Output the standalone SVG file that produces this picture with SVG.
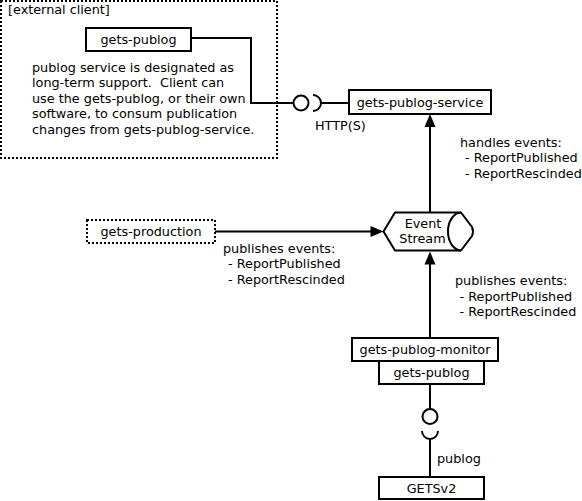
<svg xmlns="http://www.w3.org/2000/svg" width="582" height="501" viewBox="0 0 582 501">
<style>
text{font-family:"DejaVu Sans","Liberation Sans",sans-serif;font-size:12.8px;fill:#000;white-space:pre}
.c{text-anchor:middle}
.box{fill:#fff;stroke:#000;stroke-width:2}
.dot{fill:#fff;stroke:#000;stroke-width:2;stroke-dasharray:2 2}
.ln{fill:none;stroke:#000;stroke-width:2}
.ah{fill:#000;stroke:none}
</style>
<rect width="582" height="501" fill="#fff"/>
<g id="external-client">
<rect class="dot" x="1" y="1" width="276" height="157"/>
<text x="8" y="14">[external client]</text>
<text x="32" y="71.5">publog service is designated as</text>
<text x="32" y="87">long-term support.  Client can</text>
<text x="32" y="102.7">use the gets-publog, or their own</text>
<text x="32" y="118.3">software, to consum publication</text>
<text x="32" y="134">changes from gets-publog-service.</text>
</g>
<g id="client-gets-publog">
<rect class="box" x="86" y="28" width="105" height="23"/>
<text class="c" x="138.5" y="44">gets-publog</text>
</g>
<g id="gets-publog-service">
<rect class="box" x="349" y="90" width="142" height="24"/>
<text class="c" x="420" y="106.5">gets-publog-service</text>
</g>
<g id="gets-production">
<rect class="dot" x="87" y="220" width="128" height="23"/>
<text class="c" x="151" y="236">gets-production</text>
</g>
<g id="event-stream">
<path class="box" stroke-linejoin="round" d="M461,212.5 H395 L383.5,231.5 L395,250.5 H461 L472,236 Q474,231.5 472,227 Z"/>
<path class="ln" d="M461,212.5 A13,19 0 0 0 461,250.5"/>
<text class="c" x="423" y="227.5">Event</text>
<text class="c" x="422.5" y="243">Stream</text>
</g>
<g id="gets-publog-monitor">
<rect class="box" x="352" y="338" width="146" height="23"/>
<text class="c" x="425" y="354">gets-publog-monitor</text>
</g>
<g id="gets-publog">
<rect class="box" x="379" y="361" width="105" height="23"/>
<text class="c" x="431.5" y="377">gets-publog</text>
</g>
<g id="getsv2">
<rect class="box" x="379" y="477" width="105" height="22"/>
<text class="c" x="431.5" y="492.5">GETSv2</text>
</g>
<g id="connectors">
<path class="ln" d="M191,38 H251 V103 H293.5"/>
<circle class="ln" cx="301" cy="103" r="7.5"/>
<path class="ln" d="M313,95 A8,8 0 0 1 313,111"/>
<path class="ln" d="M321,103 H349"/>
<text x="315" y="130">HTTP(S)</text>
<path class="ln" d="M430,212.5 V126"/>
<polygon class="ah" points="430,114 424.5,127 435.5,127"/>
<text x="460" y="146.5">handles events:</text>
<text x="465" y="162">- ReportPublished</text>
<text x="465" y="177.5">- ReportRescinded</text>
<path class="ln" d="M215,231.5 H371"/>
<polygon class="ah" points="383.5,231.5 370.5,226 370.5,237"/>
<text x="223" y="252.5">publishes events:</text>
<text x="228" y="268">- ReportPublished</text>
<text x="228" y="283.5">- ReportRescinded</text>
<path class="ln" d="M430,338 V264"/>
<polygon class="ah" points="430,251.5 424.5,264.5 435.5,264.5"/>
<text x="455" y="285">publishes events:</text>
<text x="459.5" y="300.5">- ReportPublished</text>
<text x="459.5" y="316">- ReportRescinded</text>
<path class="ln" d="M430,384 V409"/>
<circle class="ln" cx="430" cy="416.5" r="7.5"/>
<path class="ln" d="M422,431 A8,8 0 0 0 438,431"/>
<path class="ln" d="M430,439 V477"/>
<text x="437" y="462.5">publog</text>
</g>
</svg>
